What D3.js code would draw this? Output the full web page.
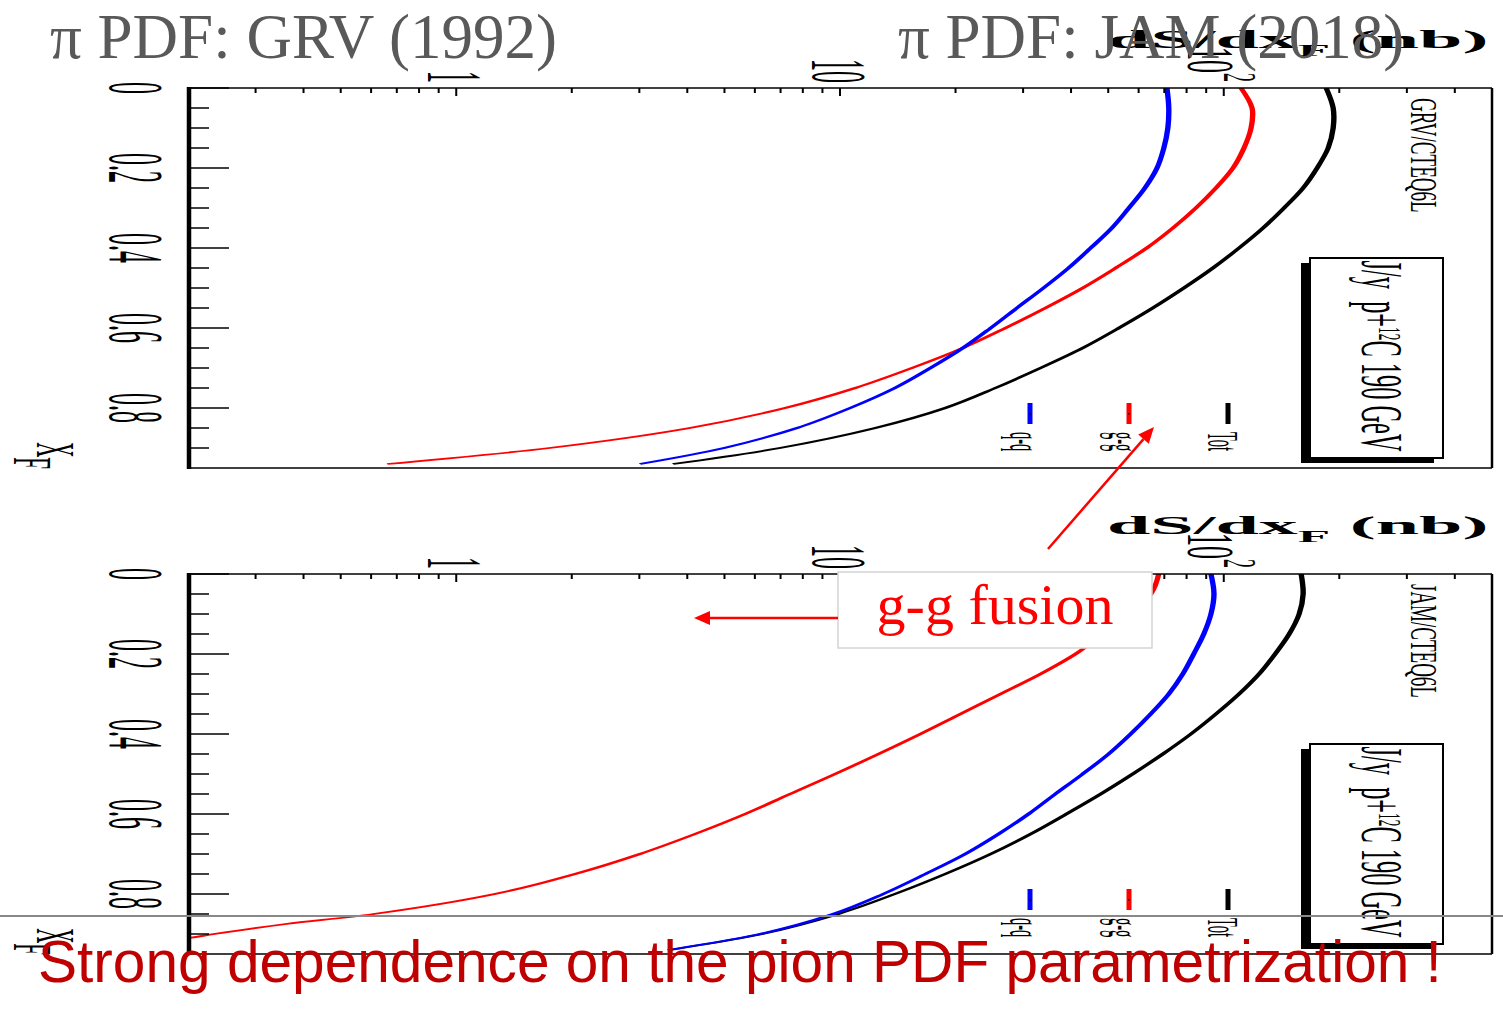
<!DOCTYPE html>
<html><head><meta charset="utf-8">
<script src="https://cdn.jsdelivr.net/npm/d3@7"></script>
<style>body{margin:0;background:#fff;} svg{display:block;} text{white-space:pre;}</style>
</head><body>
<svg id="c" width="1503" height="1021"></svg>
<script>
// ---------------- data ----------------
const xF = [0,0.05,0.1,0.15,0.2,0.25,0.3,0.35,0.4,0.45,0.5,0.55,0.6,0.65,0.7,0.75,0.8,0.85,0.9,0.94];
const grvQQ  = [71.1,71.9,71.5,69.8,67.0,62.3,56.6,51.1,45.0,39.4,33.9,28.9,24.7,20.9,17.2,13.9,10.63,7.73,4.99,3.01];
const grvGG  = [110.9,118.5,117.8,112.9,105.7,95.4,84.6,73.7,63.0,52.3,42.9,34.3,27.0,20.9,15.4,10.96,7.19,4.06,1.75,0.661];
const grvTot = [184.9,192.8,192.8,187.1,175.1,161.0,143.6,126.6,109.6,93.7,78.7,65.3,53.3,42.9,33.3,25.4,18.8,12.36,6.97,3.67];
const jamQQ  = [92.6,94.3,92.6,88.7,83.5,78.2,71.9,64.5,57.2,50.1,42.9,36.4,31.0,25.9,21.2,16.7,12.96,9.6,6.19,3.56];
const jamTot = [159.1,161.0,157.2,148.1,136.1,123.6,109.6,95.4,82.1,69.4,57.9,47.8,38.9,31.4,24.7,18.8,13.9,9.89,6.26,3.60];
const xFjamGG = [0,0.05,0.1,0.15,0.2,0.25,0.3,0.35,0.4,0.45,0.5,0.55,0.6,0.65,0.7,0.75,0.8,0.85,0.875,0.9,0.91,0.92,0.94];
const jamGG  = [67.7,64.6,57.2,48.7,41.1,33.3,26.2,20.6,16.2,12.6,9.71,7.41,5.66,4.19,3.01,2.04,1.26,0.61,0.36,0.234,0.201,0.158,0.09];

const xfTicks = [0,0.2,0.4,0.6,0.8];
const xfTickText = ["0","0.2","0.4","0.6","0.8"];
const valueTicks = [1,10,100];
const valueTickText = ["1","10","10"];
const valueTickExp = ["","","2"];
const legendNames = ["q-q","g-g","Tot"];
const legendColors = ["#0000ff","#ff0000","#000000"];
const titles = ["\u03c0 PDF: GRV (1992)","\u03c0 PDF: JAM (2018)"];
const pdfNames = ["GRV/CTEQ6L","JAM/CTEQ6L"];
const boxText = ["J/y  p+","12","C 190 GeV"];
const annotation = "g-g fusion";
const conclusion = "Strong dependence on the pion PDF parametrization !";

const panels = [
  {top: 88, name: pdfNames[0], series: [
     {xs: xF, ys: grvTot, color: "#000000"},
     {xs: xF, ys: grvGG, color: "#ff0000"},
     {xs: xF, ys: grvQQ, color: "#0000ff"}]},
  {top: 574, name: pdfNames[1], series: [
     {xs: xF, ys: jamTot, color: "#000000"},
     {xs: xFjamGG, ys: jamGG, color: "#ff0000"},
     {xs: xF, ys: jamQQ, color: "#0000ff"}]}
];

// ---------------- drawing ----------------
const svg = d3.select("#c");
const SC = 3;                     // horizontal stretch of the rotated frame
const XL = 188, XR = 1492, FH = 380;
const SERIF = "'Liberation Serif','Times New Roman',serif";
const vScale = d3.scaleLog().domain([0.2, 500]).range([XL, XR]);

function rot(parent, x, y, sx, fs, anchor) {
  return parent.append("text")
    .attr("transform", `translate(${x},${y}) scale(${sx},1) rotate(90)`)
    .attr("font-family", SERIF).attr("font-size", fs)
    .attr("text-anchor", anchor).attr("fill", "#000");
}

panels.forEach((p, pi) => {
  const g = svg.append("g");
  const yS = d3.scaleLinear().domain([0, 0.95]).range([p.top, p.top + FH]);

  // curves in stretched local frame
  const cid = "clip" + pi;
  svg.append("clipPath").attr("id", cid).append("rect")
    .attr("x", XL / SC).attr("y", p.top).attr("width", (XR - XL) / SC).attr("height", FH);
  const gl = g.append("g").attr("transform", `scale(${SC},1)`).attr("clip-path", `url(#${cid})`);
  const line = d3.line().x(d => vScale(d[1]) / SC).y(d => yS(d[0])).curve(d3.curveCatmullRom.alpha(0.5));
  p.series.forEach(s => {
    gl.append("path").attr("d", line(s.xs.map((x, i) => [x, s.ys[i]])))
      .attr("fill", "none").attr("stroke", s.color).attr("stroke-width", 1.8)
      .attr("stroke-linejoin", "round");
  });

  // frame
  g.append("line").attr("x1", XL).attr("x2", XR).attr("y1", p.top).attr("y2", p.top).attr("stroke", "#000").attr("stroke-width", 1.5);
  g.append("line").attr("x1", XL).attr("x2", XR).attr("y1", p.top + FH).attr("y2", p.top + FH).attr("stroke", "#000").attr("stroke-width", 1.5);
  g.append("line").attr("x1", XR).attr("x2", XR).attr("y1", p.top).attr("y2", p.top + FH).attr("stroke", "#000").attr("stroke-width", 2.5);
  g.append("line").attr("x1", 189).attr("x2", 189).attr("y1", p.top - 1).attr("y2", p.top + FH + 1).attr("stroke", "#000").attr("stroke-width", 4.5);

  // xF axis ticks (left)
  d3.range(0, 19).forEach(k => {
    const y = yS(k * 0.05);
    const len = (k % 4 === 0) ? 40 : 20;
    g.append("line").attr("x1", 189).attr("x2", 189 + len).attr("y1", y).attr("y2", y).attr("stroke", "#000").attr("stroke-width", 1.5);
  });
  xfTicks.forEach((t, i) => {
    rot(g, 110, yS(t), 3.3, 24, "middle").text(xfTickText[i]);
  });

  // value axis ticks (top)
  vScale.ticks().forEach(t => {
    const lg = Math.log10(t);
    const major = Math.abs(lg - Math.round(lg)) < 1e-9;
    const x = vScale(t);
    g.append("line").attr("x1", x).attr("x2", x).attr("y1", p.top).attr("y2", p.top + (major ? 8 : 5)).attr("stroke", "#000").attr("stroke-width", 2);
  });
  valueTicks.forEach((t, i) => {
    const x = vScale(t);
    if (!valueTickExp[i]) {
      rot(g, x, p.top - 5, 3.3, 24, "end").attr("dy", "0.34em").text(valueTickText[i]);
    } else {
      const tx = rot(g, x, p.top - 6, 2.6, 26, "end");
      tx.append("tspan").attr("dy", 13.7).text(valueTickText[i]);
      tx.append("tspan").attr("dy", -13.8).attr("font-size", 18).text(valueTickExp[i]);
    }
  });

  // axis titles
  const at = g.append("text").attr("transform", `translate(1107,${p.top - 40}) scale(3.12,1)`)
    .attr("font-family", SERIF).attr("font-weight", "bold").attr("font-size", 25).attr("fill", "#000");
  at.append("tspan").text("dS/dx");
  at.append("tspan").attr("font-size", 17).attr("dy", 8).text("F");
  at.append("tspan").attr("dy", -8).text(" (nb)");
  const xt = rot(g, 37, p.top + 381, 2.6, 21, "end");
  xt.append("tspan").text("X");
  xt.append("tspan").attr("dy", 9).text("F");

  // PDF name
  rot(g, 1411, p.top + 10, 2.0, 19, "start").text(p.name);

  // legend
  legendNames.forEach((n, i) => {
    const x = 1030 + i * 99;
    g.append("rect").attr("x", x - 2.5).attr("y", p.top + 315).attr("width", 5).attr("height", 21).attr("fill", legendColors[i]);
    g.append("rect").attr("x", x - 0.75).attr("y", p.top + 325).attr("width", 1.5).attr("height", 1.5).attr("fill", "#000");
    rot(g, x - 20, p.top + 344, 3.1, 14.5, "start").text(n);
  });

  // pave text box with shadow
  g.append("rect").attr("x", 1301).attr("y", p.top + 175).attr("width", 133).attr("height", 200).attr("fill", "#000");
  g.append("rect").attr("x", 1310).attr("y", p.top + 170).attr("width", 133).attr("height", 200).attr("fill", "#fff").attr("stroke", "#000").attr("stroke-width", 2);
  const bt = rot(g, 1362, p.top + 268, 2.45, 24.4, "middle");
  bt.append("tspan").text(boxText[0]);
  bt.append("tspan").attr("font-size", 13.3).attr("dy", -6.8).text(boxText[1]);
  bt.append("tspan").attr("dy", 6.8).text(boxText[2]);
});

// annotation box and arrows
const ann = svg.append("g");
ann.append("rect").attr("x", 838).attr("y", 572).attr("width", 314).attr("height", 76)
  .attr("fill", "#fff").attr("stroke", "#d4d4d4").attr("stroke-width", 1.5);
ann.append("text").attr("x", 995).attr("y", 624).attr("text-anchor", "middle")
  .attr("font-family", SERIF).attr("font-size", 58).attr("fill", "#ff0000").text(annotation);
function arrow(x1, y1, x2, y2) {
  const dx = x2 - x1, dy = y2 - y1, L = Math.hypot(dx, dy), ux = dx / L, uy = dy / L;
  const hl = 16, hw = 7;
  const bx = x2 - ux * hl, by = y2 - uy * hl;
  ann.append("line").attr("x1", x1).attr("y1", y1).attr("x2", bx).attr("y2", by).attr("stroke", "#ff0000").attr("stroke-width", 2.5);
  ann.append("path").attr("d", `M${x2},${y2}L${bx - uy * hw},${by + ux * hw}L${bx + uy * hw},${by - ux * hw}Z`).attr("fill", "#ff0000");
}
arrow(838, 618, 694, 618);
arrow(1048, 549, 1154, 427);

// separator line
svg.append("line").attr("x1", 0).attr("x2", 1503).attr("y1", 916).attr("y2", 916).attr("stroke", "#888").attr("stroke-width", 2);

// conclusion
svg.append("text").attr("x", 38).attr("y", 982)
  .attr("font-family", "'Liberation Sans',Arial,sans-serif").attr("font-size", 58.6).attr("fill", "#c00000").text(conclusion);

// titles
svg.append("text").attr("x", 50).attr("y", 58).attr("font-family", SERIF).attr("font-size", 63).attr("fill", "#595959").text(titles[0]);
svg.append("text").attr("x", 898).attr("y", 58).attr("font-family", SERIF).attr("font-size", 63).attr("fill", "#595959").text(titles[1]);
</script>
</body></html>
